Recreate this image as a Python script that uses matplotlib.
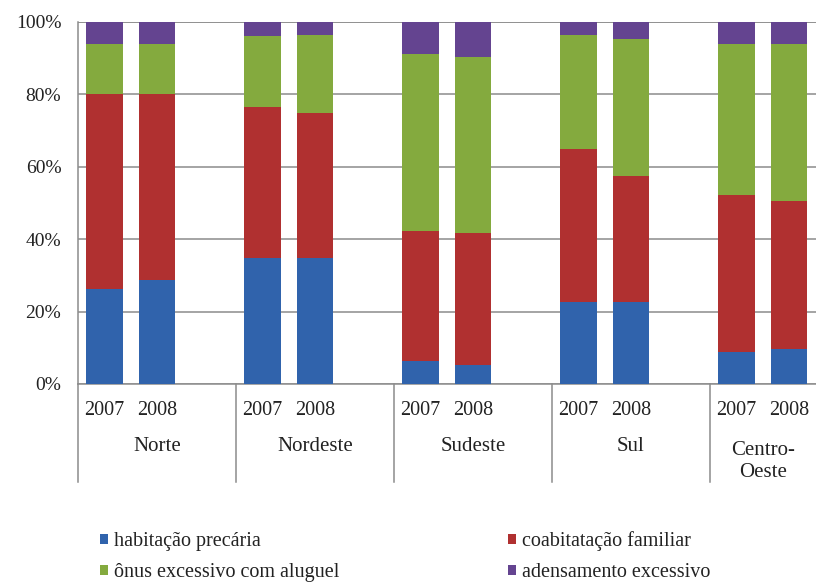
import matplotlib.pyplot as plt
from matplotlib.patches import Patch
import numpy as np

plt.rcParams['font.family'] = ['Liberation Serif', 'DejaVu Serif']

regioes = ["Norte", "Nordeste", "Sudeste", "Sul", "Centro-\nOeste"]
anos = ["2007", "2008"]

# shares (%) per region, [2007, 2008]
habitacao_precaria = [[26.3, 28.7], [34.8, 34.8], [6.4, 5.2], [22.7, 22.7], [8.8, 9.6]]
coabitacao_familiar = [[53.8, 51.4], [41.8, 40.1], [35.8, 36.4], [42.1, 34.8], [43.5, 41.0]]
onus_aluguel = [[13.8, 13.8], [19.5, 21.6], [49.0, 48.6], [31.5, 37.7], [41.6, 43.3]]
adensamento = [[6.1, 6.1], [3.9, 3.5], [8.8, 9.8], [3.7, 4.8], [6.1, 6.1]]

series = [
    ("habitação precária", habitacao_precaria, "#3063ac"),
    ("coabitatação familiar", coabitacao_familiar, "#b03030"),
    ("ônus excessivo com aluguel", onus_aluguel, "#84aa3e"),
    ("adensamento excessivo", adensamento, "#644490"),
]

fig = plt.figure(figsize=(8.16, 5.83), dpi=100)
# plot area runs past the right edge of the figure (last group is cut off)
ax = fig.add_axes([78 / 816, 1 - 384 / 583, 790 / 816, 362 / 583])

# each region takes three slots: two bars and a gap
x = np.array([[3 * g, 3 * g + 1] for g in range(len(regioes))]).ravel()
bottom = np.zeros(len(x))
for nome, vals, cor in series:
    v = np.array(vals).ravel()
    ax.bar(x, v, width=0.7, bottom=bottom, color=cor, label=nome, zorder=3)
    bottom += v

ax.set_xlim(-0.5, 3 * len(regioes) - 0.5)
ax.set_ylim(0, 100)
ax.set_yticks(range(0, 101, 20))
ax.set_yticklabels([f"{t}%" for t in range(0, 101, 20)], fontsize=14, color="#222222")
ax.tick_params(axis="y", length=0, pad=12)
ax.set_xticks([])
ax.yaxis.grid(True, color="#8c8c8c", linewidth=1.1, zorder=0)
for s in ["top", "right"]:
    ax.spines[s].set_visible(False)
for s in ["left", "bottom"]:
    ax.spines[s].set_color("#8c8c8c")
    ax.spines[s].set_linewidth(1.1)
ax.axhline(100, color="#8c8c8c", linewidth=1.1, zorder=1)

# two-level category axis below the bars
trans = ax.get_xaxis_transform()
for g, reg in enumerate(regioes):
    ax.plot([3 * g - 0.5, 3 * g - 0.5], [0, -0.27], color="#8c8c8c",
            linewidth=1.1, transform=trans, clip_on=False)
    for k, ano in enumerate(anos):
        ax.text(3 * g + k, -0.074, ano, transform=trans, ha="center", va="center",
                fontsize=14.5, color="#222222")
    if "\n" in reg:
        # last group is cut by the figure edge, so its label sits over the visible part
        ax.text(3 * g + 0.5, -0.214, reg, transform=trans, ha="center", va="center",
                fontsize=15, color="#222222", linespacing=1.2)
    else:
        ax.text(3 * g + 1, -0.172, reg, transform=trans, ha="center", va="center",
                fontsize=15, color="#222222")

handles = [Patch(facecolor=c, edgecolor="none") for _, _, c in series]
labels = [n for n, _, _ in series]
kw = dict(frameon=False, fontsize=14.5, handlelength=0.4, handleheight=0.4,
          handletextpad=0.3, labelspacing=0.6, borderpad=0, borderaxespad=0,
          loc="center left")
for text in fig.legend([handles[0], handles[2]], [labels[0], labels[2]],
                       bbox_to_anchor=(100 / 816, 1 - 557 / 583), **kw).get_texts():
    text.set_color("#222222")
for text in fig.legend([handles[1], handles[3]], [labels[1], labels[3]],
                       bbox_to_anchor=(508 / 816, 1 - 557 / 583), **kw).get_texts():
    text.set_color("#222222")

fig.savefig("out.png", dpi=100)
